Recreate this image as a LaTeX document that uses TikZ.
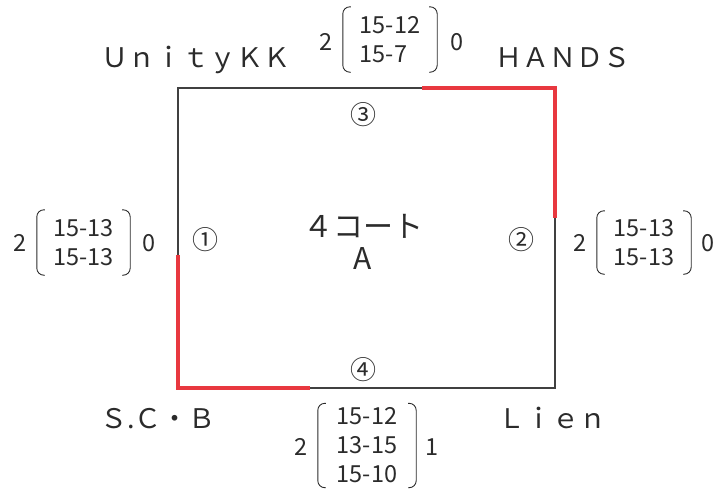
\documentclass[tikz,border=0pt]{standalone}
\usepackage{fontspec}
\setmainfont{Noto Sans CJK JP}
\definecolor{courtred}{HTML}{E8383F}
\definecolor{ink}{HTML}{2B2B2B}
\definecolor{courtline}{HTML}{404040}
\newcommand\drawparens[1]{%
  \draw[parenline] ([xshift=8pt]#1.north west) -- (#1.north west) -- (#1.south west) -- ([xshift=8pt]#1.south west);
  \draw[parenline] ([xshift=-8pt]#1.north east) -- (#1.north east) -- (#1.south east) -- ([xshift=-8pt]#1.south east);
}
\begin{document}
\begin{tikzpicture}[x=1pt,y=-1pt,
  teamlbl/.style={inner sep=0pt, anchor=base, font=\fontsize{27}{27}\selectfont, text=ink},
  scorerows/.style={inner sep=0pt, align=left, font=\fontsize{23.5}{29}\selectfont, text=ink},
  scorenum/.style={inner sep=0pt, font=\fontsize{23.5}{29}\selectfont, text=ink},
  circnum/.style={inner sep=0pt, font=\fontsize{26}{26}\selectfont, text=ink},
  centertxt/.style={inner sep=0pt, font=\fontsize{30}{30}\selectfont, text=ink},
  parenline/.style={draw=ink, line width=0.9pt, rounded corners=7pt},
  courtedge/.style={draw=courtline, line width=1.5pt},
  redside/.style={draw=courtred, line width=4pt, line join=miter}
]
\useasboundingbox (0,0) rectangle (721,488);

% court
\coordinate (tl) at (178,88);
\coordinate (tr) at (555,88);
\coordinate (br) at (555,388);
\coordinate (bl) at (178,388);
\draw[courtedge] (tl) -- (tr) -- (br) -- (bl) -- cycle;
\coordinate (r1) at (422,88);
\coordinate (r2) at (555,218);
\coordinate (l1) at (178,255);
\coordinate (l2) at (310,388);
\draw[redside] (r1) -| (r2);
\draw[redside] (l1) |- (l2);

% team names
\node[teamlbl] (unity) at (196,67) {ＵｎｉｔｙＫＫ};
\node[teamlbl] (hands) at (563,67) {ＨＡＮＤＳ};
\node[teamlbl] (scb) at (158,428) {Ｓ.Ｃ・Ｂ};
\node[teamlbl] (lien) at (552,428) {Ｌｉｅｎ};

% centre
\node[centertxt] (court) at (363,226) {４コート};
\node[centertxt] (courtA) at (363,258.5) {A};

% circled numbers
\node[circnum] (c1) at (205,240) {①};
\node[circnum] (c2) at (521,240) {②};
\node[circnum] (c3) at (363,115) {③};
\node[circnum] (c4) at (363,370) {④};

% top score
\node[scorerows, minimum width=94pt, minimum height=65pt] (mtop) at (390,39.5) {15-12\\15-7};
\drawparens{mtop}
\node[scorenum] (mtopl) at (326,42) {2};
\node[scorenum] (mtopr) at (457,42) {0};

% left score
\node[scorerows, minimum width=93pt, minimum height=65pt] (mleft) at (83.5,242.5) {15-13\\15-13};
\drawparens{mleft}
\node[scorenum] (mleftl) at (20,243) {2};
\node[scorenum] (mleftr) at (149,243) {0};

% right score
\node[scorerows, minimum width=94pt, minimum height=63pt] (mright) at (644,242.5) {15-13\\15-13};
\drawparens{mright}
\node[scorenum] (mrightl) at (580,243) {2};
\node[scorenum] (mrightr) at (708,243) {0};

% bottom score
\node[scorerows, minimum width=98pt, minimum height=84pt] (mbot) at (367,445.5) {15-12\\13-15\\15-10};
\drawparens{mbot}
\node[scorenum] (mbotl) at (301,447) {2};
\node[scorenum] (mbotr) at (432,447) {1};
\end{tikzpicture}
\end{document}
